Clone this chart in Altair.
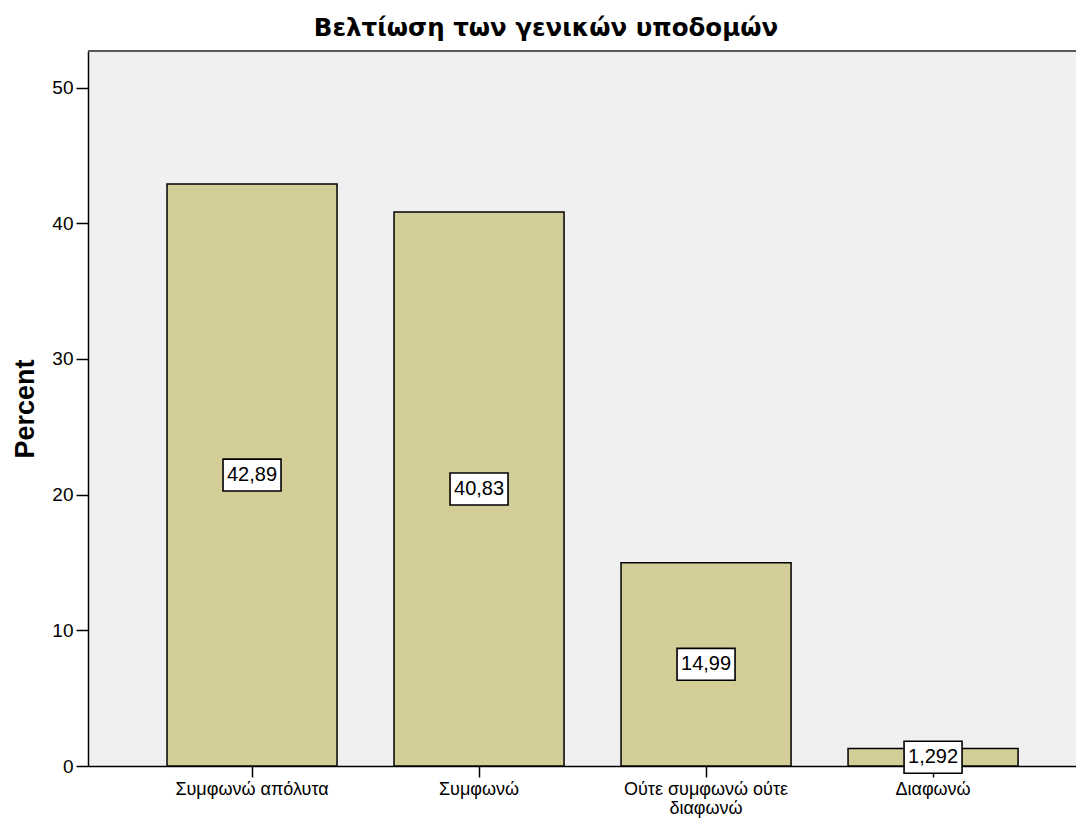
import altair as alt
import pandas as pd

categories = ["Συμφωνώ απόλυτα", "Συμφωνώ", "Ούτε συμφωνώ ούτε διαφωνώ", "Διαφωνώ"]
values = [42.89, 40.83, 14.99, 1.292]
labels = ["42,89", "40,83", "14,99", "1,292"]
y_ticks = [0, 10, 20, 30, 40, 50]

df = pd.DataFrame({"cat": categories, "pct": values, "lab": labels})
df["mid"] = df["pct"] / 2

W, H = 988, 715
FONT = "Liberation Sans"

xenc = alt.X(
    "cat:N",
    sort=categories,
    scale=alt.Scale(paddingInner=0.251, paddingOuter=0.3016, align=0.577),
    axis=alt.Axis(
        title=None,
        labelAngle=0,
        labelFont=FONT,
        labelFontSize=18,
        labelColor="#000000",
        labelLineHeight=19,
        labelPadding=3,
        labelLimit=400,
        tickSize=11,
        tickColor="#000000",
        tickWidth=1.5,
        domainColor="#000000",
        domainWidth=1.5,
        labelExpr="length(datum.label) > 20 ? [substring(datum.label, 0, lastindexof(datum.label, ' ')), substring(datum.label, lastindexof(datum.label, ' ') + 1)] : datum.label",
    ),
)

bars = alt.Chart(df).mark_bar(
    fill="#D3CE98", stroke="#000000", strokeWidth=1.5
).encode(
    x=xenc,
    y=alt.Y(
        "pct:Q",
        scale=alt.Scale(domain=[0, 52.7], nice=False),
        axis=alt.Axis(
            title="Percent",
            titleFont=FONT,
            titleFontSize=27,
            titleFontWeight="bold",
            titleColor="#000000",
            titlePadding=12,
            values=y_ticks,
            grid=False,
            labelFont=FONT,
            labelFontSize=19,
            labelColor="#000000",
            labelPadding=3,
            tickSize=12,
            tickColor="#000000",
            tickWidth=1.5,
            domainColor="#000000",
            domainWidth=1.5,
        ),
    ),
)

boxes = alt.Chart(df).mark_point(
    shape="M-1,-0.55L1,-0.55L1,0.55L-1,0.55Z",
    size=58 * 58,
    filled=True,
    fill="#FFFFFF",
    stroke="#000000",
    strokeWidth=1.6,
    opacity=1,
).encode(
    x=alt.X("cat:N", sort=categories),
    y=alt.Y("mid:Q"),
)

texts = alt.Chart(df).mark_text(
    font=FONT, fontSize=20, color="#000000", baseline="middle", align="center"
).encode(
    x=alt.X("cat:N", sort=categories),
    y=alt.Y("mid:Q"),
    text="lab:N",
)

topline = alt.Chart(df).mark_rule(color="#5a5a5a", strokeWidth=2).encode(
    x=alt.value(0), x2=alt.value(W), y=alt.value(0)
)

chart = (
    alt.layer(bars, boxes, texts, topline)
    .properties(
        width=W,
        height=H,
        title=alt.TitleParams(
            "Βελτίωση των γενικών υποδομών",
            font="DejaVu Sans",
            fontSize=24.5,
            fontWeight="bold",
            color="#000000",
            anchor="middle",
            dx=-36,
            dy=24,
            offset=14,
            baseline="alphabetic",
        ),
        autosize=alt.AutoSizeParams(type="none"),
        padding={"left": 80, "top": 43, "right": 0, "bottom": 54},
        background="#FFFFFF",
    )
    .configure_view(fill="#F0F0F0", stroke=None)
)

chart.save("out.html", embed_options={"renderer": "svg", "actions": False})
